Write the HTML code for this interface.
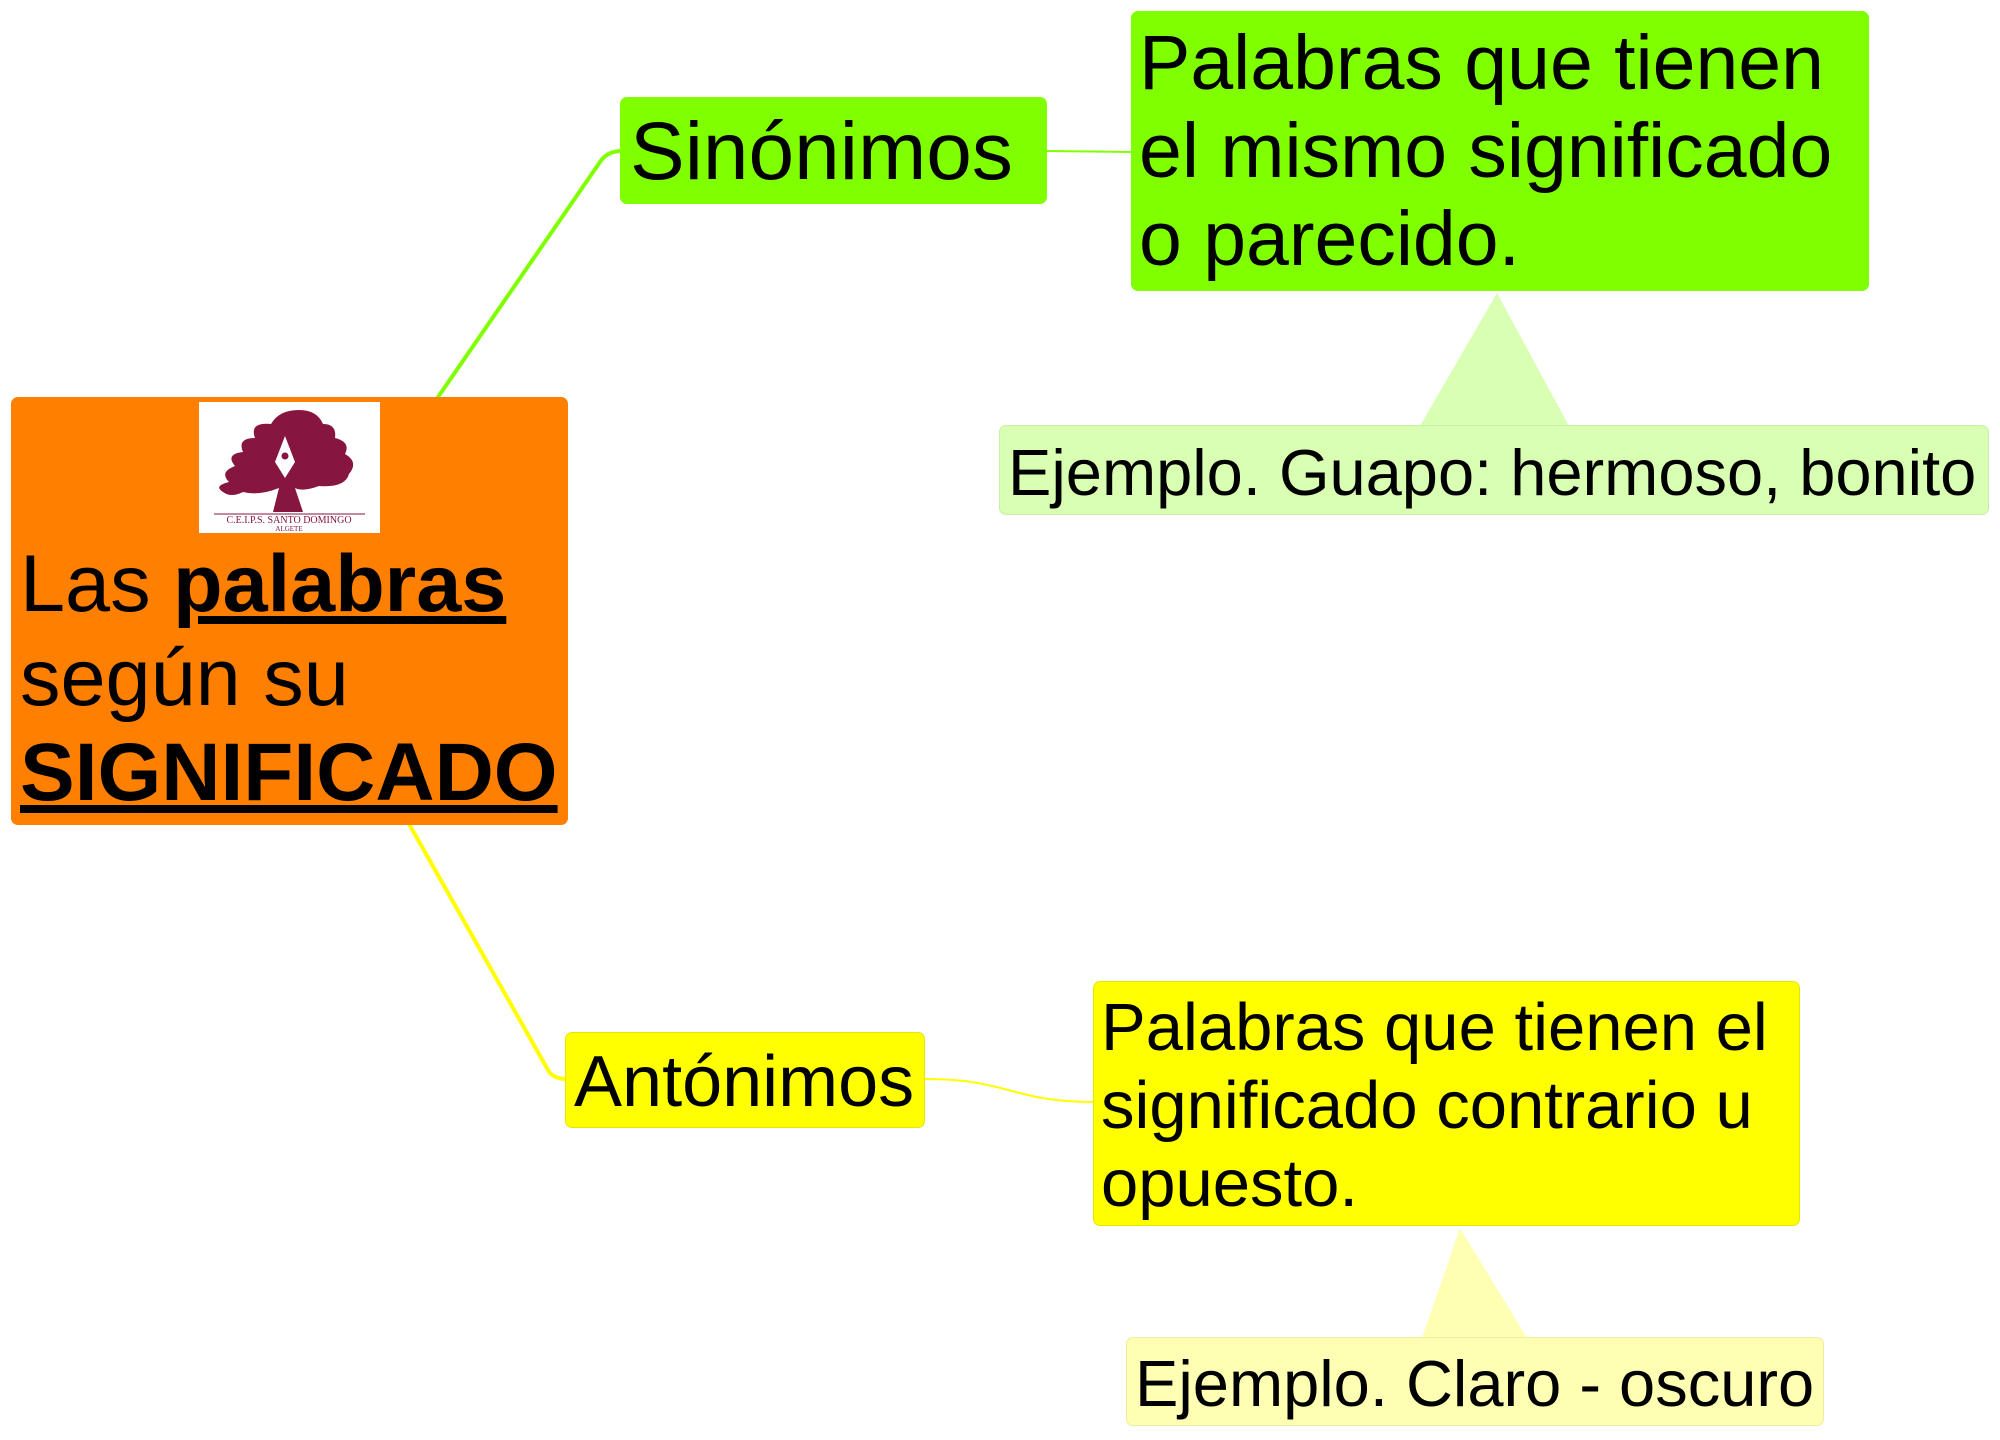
<!DOCTYPE html>
<html><head><meta charset="utf-8"><style>
body{margin:0;width:2000px;height:1440px;background:#fff;position:relative;overflow:hidden;font-family:"Liberation Sans",sans-serif;color:#000}
.b{position:absolute;box-sizing:border-box;border-radius:7px}
.t{position:absolute;white-space:nowrap;line-height:1}
</style></head><body>
<svg width="2000" height="1440" style="position:absolute;left:0;top:0">
<path d="M436 400 L600 162 Q607 151 622 151" stroke="#80ff00" stroke-width="4" fill="none"/>
<path d="M1047 151 L1133 152" stroke="#80ff00" stroke-width="2" fill="none"/>
<path d="M408 822 L548 1070 Q553 1079 567 1079" stroke="#ffff00" stroke-width="4" fill="none"/>
<path d="M925 1079 C1010 1079 1010 1102 1095 1102" stroke="#ffff00" stroke-width="2" fill="none"/>
<polygon points="1497,293 1420,426 1569,426" fill="#d9ffb3"/>
<polygon points="1460,1228 1422,1338 1527,1338" fill="#ffffb3"/>
</svg>
<div class="b" style="left:11px;top:397px;width:557px;height:428px;background:#ff7f00"></div>
<svg style="position:absolute;left:199px;top:402px" width="181" height="131" viewBox="0 0 181 131">
<rect width="181" height="131" fill="#fff"/>
<path d="M24 90 Q14 84 30 80 Q20 70 36 64 Q26 52 44 50 Q38 36 56 36 Q50 20 72 22 Q80 8 100 8 Q118 8 124 22 Q138 22 136 36 Q152 40 146 52 Q160 60 150 72 Q146 86 120 84 Q104 90 96 86 L104 110 L74 110 L80 86 Q60 94 44 90 Q32 96 24 90Z" fill="#861640"/>
<path d="M86 34 L76 60 L86 76 L96 60Z" fill="#fff"/>
<circle cx="86" cy="54" r="3.5" fill="#861640"/>
<line x1="15" y1="112" x2="166" y2="112" stroke="#861640" stroke-width="1"/>
<text x="90" y="121" font-family="Liberation Serif,serif" font-size="10" fill="#861640" text-anchor="middle">C.E.I.P.S. SANTO DOMINGO</text>
<text x="90" y="129" font-family="Liberation Serif,serif" font-size="7" fill="#861640" text-anchor="middle">ALGETE</text>
</svg>
<div class="t" style="left:20px;top:544px;font-size:81px">Las <b style="text-decoration:underline">palabras</b></div>
<div class="t" style="left:20px;top:638px;font-size:81px">según su</div>
<div class="t" style="left:20px;top:732px;font-size:82px;font-weight:bold;text-decoration:underline">SIGNIFICADO</div>

<div class="b" style="left:620px;top:97px;width:427px;height:107px;background:#80ff00"></div>
<div class="t" style="left:630px;top:111px;font-size:82px">Sinónimos</div>

<div class="b" style="left:1131px;top:11px;width:738px;height:280px;background:#80ff00"></div>
<div class="t" style="left:1139px;top:19px;font-size:77px;line-height:88px">Palabras que tienen<br>el mismo significado<br>o parecido.</div>

<div class="b" style="left:999px;top:425px;width:990px;height:90px;background:#d9ffb3;border:1px solid #c8eea8"></div>
<div class="t" style="left:1008px;top:440px;font-size:65px">Ejemplo. Guapo: hermoso, bonito</div>

<div class="b" style="left:565px;top:1032px;width:360px;height:96px;background:#ffff00;border:1px solid #e6e600"></div>
<div class="t" style="left:574px;top:1046px;font-size:72px">Antónimos</div>

<div class="b" style="left:1093px;top:981px;width:707px;height:245px;background:#ffff00;border:1px solid #e6e600"></div>
<div class="t" style="left:1101px;top:989px;font-size:67px;line-height:78px">Palabras que tienen el<br>significado contrario u<br>opuesto.</div>

<div class="b" style="left:1126px;top:1337px;width:698px;height:89px;background:#ffffb3;border:1px solid #ededa0"></div>
<div class="t" style="left:1135px;top:1351px;font-size:65px">Ejemplo. Claro - oscuro</div>
</body></html>
